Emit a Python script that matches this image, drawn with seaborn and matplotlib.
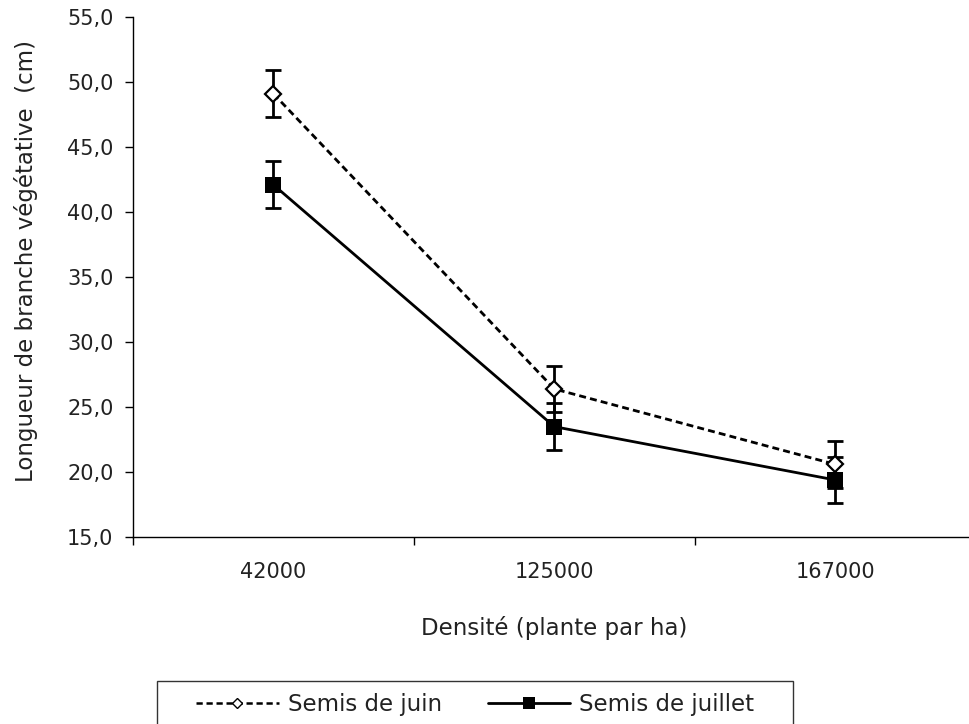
import numpy as np
import pandas as pd
import seaborn as sns
import matplotlib.pyplot as plt
from matplotlib.patches import Rectangle
from matplotlib.lines import Line2D

densites = ['42000', '125000', '167000']
juin = [49.1, 26.4, 20.6]
juin_err = [1.8, 1.8, 1.8]
juillet = [42.1, 23.5, 19.4]
juillet_err = [1.8, 1.8, 1.8]
y_ticks = [15, 20, 25, 30, 35, 40, 45, 50, 55]
y_labels = ['%.1f' % v for v in y_ticks]
y_labels = [s.replace('.', ',') for s in y_labels]

sns.set_style('ticks')
plt.rcParams['font.family'] = ['DejaVu Sans']
plt.rcParams['font.size'] = 15
text_col = '#222222'
label_size = 16.5

data = pd.DataFrame({
    'pos': list(range(3)) * 2,
    'longueur': juin + juillet,
    'serie': ['Semis de juin'] * 3 + ['Semis de juillet'] * 3,
})

fig = plt.figure(figsize=(9.7, 7.24), dpi=100)
ax = fig.add_axes([0.137, 0.258, 0.869, 0.7185])

sns.lineplot(data=data, x='pos', y='longueur', hue='serie', style='serie',
             palette=['black', 'black'], markers={'Semis de juin': 'D', 'Semis de juillet': 's'},
             dashes={'Semis de juin': (2.5, 1.5), 'Semis de juillet': ''},
             sort=False, legend=False, ax=ax, linewidth=2.0, zorder=3)

lines = ax.get_lines()
lines[0].set_markerfacecolor('white')
lines[0].set_markeredgecolor('black')
lines[0].set_markersize(8.5)
lines[0].set_markeredgewidth(1.6)
lines[1].set_markersize(12)
lines[1].set_markeredgewidth(0)

pos = np.arange(3)
for vals, errs in [(juin, juin_err), (juillet, juillet_err)]:
    ax.errorbar(pos, vals, yerr=errs, fmt='none', ecolor='black',
                elinewidth=2.0, capsize=5.5, capthick=2.0, zorder=2)

ax.set_xlim(-0.5, 2.5)
ax.set_ylim(15, 55)
ax.set_xticks([-0.5, 0.5, 1.5, 2.5])
ax.set_xticklabels([])
ax.set_xticks(pos, minor=True)
ax.set_xticklabels(densites, minor=True, color=text_col)
ax.tick_params(axis='x', which='minor', length=0, pad=18)
ax.tick_params(axis='x', which='major', length=6, width=1, color='black')
ax.set_yticks(y_ticks)
ax.set_yticklabels(y_labels, color=text_col)
ax.tick_params(axis='y', length=6, width=1, color='black', pad=8)
for sp in ['left', 'bottom']:
    ax.spines[sp].set_color('black')
    ax.spines[sp].set_linewidth(1)
sns.despine(ax=ax)

ax.set_xlabel('Densité (plante par ha)', color=text_col, fontsize=label_size)
ax.set_ylabel('Longueur de branche végétative  (cm)', color=text_col, fontsize=label_size)
ax.xaxis.set_label_coords(0.5, (628 - 537) / -520)
ax.xaxis.label.set_va('center')
ax.yaxis.set_label_coords((26 - 133) / 843, (537 - 261) / 520)
ax.yaxis.label.set_va('center')

handles = [
    Line2D([], [], color='black', lw=1.8, dashes=(2.5, 1.5), marker='D', markersize=5.5,
           markerfacecolor='white', markeredgecolor='black', markeredgewidth=1),
    Line2D([], [], color='black', lw=2.0, marker='s', markersize=8, markeredgewidth=0),
]
fig.legend(handles, ['Semis de juin', 'Semis de juillet'], loc='center',
           bbox_to_anchor=(0.49, 0.027), ncol=2, frameon=False,
           handlelength=3.6, handletextpad=0.4, columnspacing=2.0,
           labelcolor=text_col, fontsize=label_size)
fig.add_artist(Rectangle((157 / 970, -0.02), 636 / 970, (724 - 681) / 724 + 0.02,
                         transform=fig.transFigure, fill=False, edgecolor='#333333', lw=1))

fig.savefig('out.png', dpi=100)
